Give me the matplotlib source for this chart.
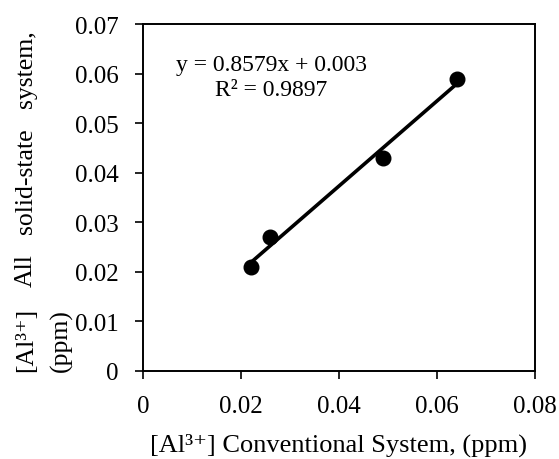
import matplotlib
matplotlib.use('Agg')
from matplotlib import pyplot as plt

plt.rcParams['font.family'] = ['Liberation Serif', 'DejaVu Serif']

# dados
conv = [0.022, 0.026, 0.049, 0.064]
solid = [0.021, 0.027, 0.043, 0.059]
slope = 0.8579
intercept = 0.003
r2 = 0.9897
x_ticks = [0, 0.02, 0.04, 0.06, 0.08]
y_ticks = [0, 0.01, 0.02, 0.03, 0.04, 0.05, 0.06, 0.07]
x_labels = ['0', '0.02', '0.04', '0.06', '0.08']
y_labels = ['0', '0.01', '0.02', '0.03', '0.04', '0.05', '0.06', '0.07']

FS = 18.5
W, H = 559, 460
fig = plt.figure(figsize=(W / 100, H / 100), dpi=100)
ax = fig.add_axes([143 / W, 1 - 372 / H, (535 - 143) / W, (372 - 25) / H])

# linha de tendencia
xs = [min(conv), max(conv)]
ax.plot(xs, [slope * v + intercept for v in xs], color='black', lw=2.6, zorder=2)
ax.plot(conv, solid, 'o', color='black', markersize=10.5, zorder=3)

ax.set_xlim(0, 0.08)
ax.set_ylim(0, 0.07)
ax.set_xticks(x_ticks)
ax.set_xticklabels(x_labels)
ax.set_yticks(y_ticks)
ax.set_yticklabels(y_labels)
ax.tick_params(direction='out', length=5.5, width=1.2, labelsize=18)
ax.tick_params(axis='y', pad=12)
ax.tick_params(axis='x', pad=12)
for s in ax.spines.values():
    s.set_linewidth(1.4)

ax.text(271 / W, 1 - 78 / H, 'y = %.4fx + %.3f\nR² = %.4f' % (slope, intercept, r2),
        transform=fig.transFigure, ha='center', va='center', fontsize=17,
        linespacing=1.25)

fig.text(338 / W, 1 - 445 / H, '[Al³⁺] Conventional System, (ppm)',
         ha='center', va='center', fontsize=19)

# rotulo do eixo y justificado em duas linhas
words = ['[Al³⁺]', 'All', 'solid-state', 'system,']
y0, y1 = 372, 30
texts = [fig.text(26 / W, 0, w, rotation=90, ha='center', va='bottom', fontsize=FS)
         for w in words]
fig.canvas.draw()
r = fig.canvas.get_renderer()
hs = [t.get_window_extent(r).height for t in texts]
gap = ((y0 - y1) - sum(hs)) / (len(words) - 1)
pos = y0
for t, h in zip(texts, hs):
    t.set_y(1 - pos / H)
    pos -= h + gap
fig.text(61 / W, 1 - 372 / H, '(ppm)', rotation=90, ha='center', va='bottom', fontsize=FS)

fig.savefig('out.png', dpi=100)
